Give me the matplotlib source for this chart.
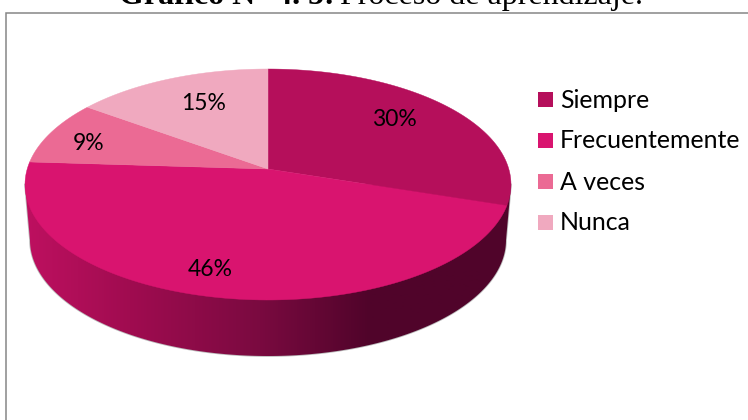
import numpy as np
import matplotlib
matplotlib.use('Agg')
import matplotlib.pyplot as plt
from matplotlib.patches import Polygon, Rectangle

categories = ['Siempre', 'Frecuentemente', 'A veces', 'Nunca']
values = [30, 46, 9, 15]
colors = ['#B50F5B', '#D9146F', '#EB6A94', '#F0A9BF']

# pie geometry in pixels, the axes are the picture itself
cx, cy = 268, 184.5
rx, ry = 243, 115.5
tilt = 0.134 # pushes the pie centre back, like the perspective of a 3D pie


def project(theta):
    # theta clockwise from 12 o'clock, in degrees
    t = np.radians(theta)
    u, v = np.sin(t), np.cos(t)
    d = 1 + tilt * v
    x = u * np.sqrt(1 - tilt ** 2) / d
    y = (v + tilt) / d
    return cx + rx * x, cy - ry * y


fig = plt.figure(figsize=(7.48, 4.2), dpi=100)
ax = fig.add_axes([0, 0, 1, 1])

# chart frame, only left and top show
ax.plot([6, 6, 748], [420, 12.5, 12.5], color='#868686', linewidth=1.1, solid_joinstyle='miter')

# title, cut by the top of the picture
title_bold = ax.text(119, 4, 'Gráfico N° 4. 5:', family='Liberation Serif', fontsize=23,
                     fontweight='bold', va='baseline', ha='left', clip_on=False)
ax.set_xlim(0, 748)
ax.set_ylim(420, 0)
ax.axis('off')
fig.canvas.draw()
bb = title_bold.get_window_extent()
ax.text(bb.x1 + 5, 4, 'Proceso de aprendizaje.', family='Liberation Serif', fontsize=23,
        va='baseline', ha='left')

# rim outline: the front arc of the bottom ellipse closed up to the widest points of the top
phi = np.linspace(0, np.pi, 200)
rim = [(cx + rx, cy)] + list(zip(cx + 238 * np.cos(phi), 240 + 116 * np.sin(phi))) + [(cx - rx, cy)]

# faint shadow under the rim
ax.add_patch(Polygon(rim, closed=True, facecolor='#BBBBBB', edgecolor='#BBBBBB', linewidth=1.2, zorder=1))

# rim gradient, left to right
grad_x = np.arange(25, 512)
stops_x = [25, 130, 260, 370, 511]
stops_r = [0xBE, 0xA0, 0x7A, 0x50, 0x50]
stops_g = [0x10, 0x0C, 0x0A, 0x04, 0x04]
stops_b = [0x60, 0x50, 0x40, 0x2A, 0x2A]
grad = np.stack([np.interp(grad_x, stops_x, s) / 255 for s in (stops_r, stops_g, stops_b)], axis=-1)[np.newaxis, :, :]
rim_patch = Polygon(rim, closed=True, transform=ax.transData, facecolor='none', edgecolor='none')
ax.add_patch(rim_patch)
im = ax.imshow(grad, extent=(25, 511, 360, 180), aspect='auto', zorder=2, interpolation='bilinear')
im.set_clip_path(rim_patch)
ax.set_xlim(0, 748)
ax.set_ylim(420, 0)

# top face wedges
edges = np.concatenate([[0], np.cumsum(values)]) / sum(values) * 360
for i, c in enumerate(colors):
    t = np.linspace(edges[i], edges[i + 1], 120)
    px, py = project(t)
    pts = [(cx, cy - ry * tilt)] + list(zip(px, py))
    ax.add_patch(Polygon(pts, closed=True, facecolor=c, edgecolor=c, linewidth=0.3, zorder=3))

# slice labels
label_x = [394, 210, 89, 204]
label_y = [120, 270, 144, 104]
for v, lx, ly in zip(values, label_x, label_y):
    ax.text(lx, ly, '%d%%' % v, family='Lato', fontsize=16.5, ha='center', va='center',
            color='black', zorder=5)

# legend
legend_y = [99, 140, 181, 222]
for name, c, ly in zip(categories, colors, legend_y):
    ax.add_patch(Rectangle((538, ly - 7.5), 15, 15, facecolor=c, edgecolor='none', zorder=5))
    ax.text(560, ly + 1, name, family='Lato', fontsize=17.9, ha='left', va='center', color='black', zorder=5)

fig.savefig('out.png', dpi=100)
